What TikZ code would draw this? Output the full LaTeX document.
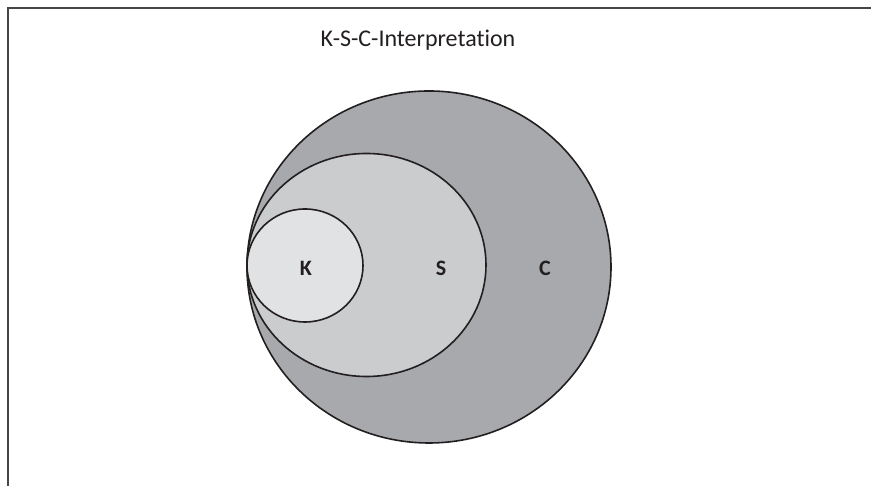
\documentclass[tikz,border=0pt]{standalone}
\usepackage{fontspec}
\setmainfont[Ligatures=NoCommon]{Carlito}
\usetikzlibrary{shapes.geometric}
\definecolor{cfill}{RGB}{167,169,172}
\definecolor{sfill}{RGB}{203,204,206}
\definecolor{kfill}{RGB}{225,226,228}
\definecolor{ink}{RGB}{35,31,32}
\definecolor{framec}{RGB}{70,70,70}
\tikzset{
  setshape/.style={ellipse, draw=ink, line width=1.6pt, inner sep=0pt, outer sep=0pt},
  setlabel/.style={font=\fontsize{22}{26}\selectfont\bfseries, text=ink, inner sep=0pt},
  frameline/.style={draw=framec, line width=2pt}
}
\begin{document}
\begin{tikzpicture}[x=1pt,y=1pt]
\useasboundingbox (0,0) rectangle (871,486);
\draw[frameline] (8,0) -- (8,478) -- (871,478);
\node[anchor=base, font=\fontsize{24}{29}\selectfont, text=ink, inner sep=0pt] (title) at (418,439) {K-S-C-Interpretation};
\node[setshape, fill=cfill, minimum width=364pt, minimum height=352pt] (C) at (429,219) {};
\node[setshape, fill=sfill, minimum width=239pt, minimum height=223pt] (S) at (366.5,221) {};
\node[setshape, fill=kfill, minimum width=116pt, minimum height=113pt] (K) at (305,220.5) {};
\node[setlabel] (kl) at (306,218) {K};
\node[setlabel] (sl) at (441,218) {S};
\node[setlabel] (cl) at (545,218) {C};
\end{tikzpicture}
\end{document}
